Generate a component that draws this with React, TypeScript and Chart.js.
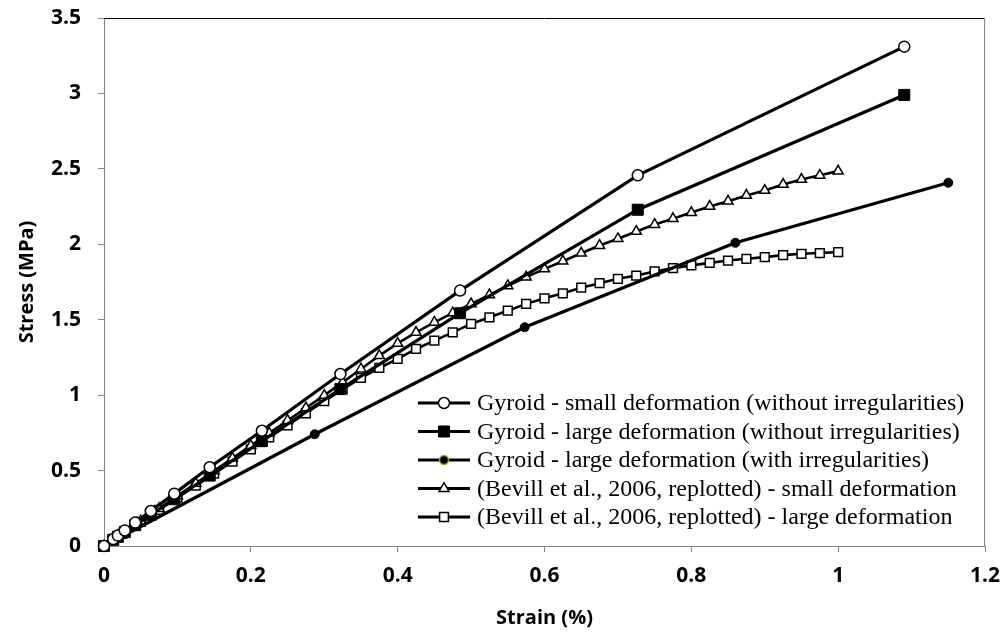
import React, { useEffect, useRef } from "react";
import { Chart, registerables } from "chart.js";

Chart.register(...registerables);

// ---- Data ----
const gyroidStrain = [0, 0.0126, 0.0189, 0.0283, 0.0425, 0.0638, 0.0957, 0.144, 0.215, 0.322, 0.485, 0.727, 1.09];
const gyroidSmallStress = [0, 0.046, 0.069, 0.103, 0.155, 0.232, 0.347, 0.522, 0.764, 1.14, 1.693, 2.457, 3.31];
const gyroidLargeStress = [0, 0.041, 0.061, 0.092, 0.138, 0.207, 0.31, 0.467, 0.695, 1.04, 1.543, 2.229, 2.99];

const irregStrain = [0, 0.287, 0.573, 0.86, 1.15];
const irregStress = [0, 0.741, 1.45, 2.01, 2.408];

const bevillStrain = [
  0, 0.025, 0.05, 0.075, 0.1, 0.125, 0.15, 0.175, 0.2, 0.225, 0.25, 0.275, 0.3, 0.325, 0.35, 0.375, 0.4,
  0.425, 0.45, 0.475, 0.5, 0.525, 0.55, 0.575, 0.6, 0.625, 0.65, 0.675, 0.7, 0.725, 0.75, 0.775, 0.8,
  0.825, 0.85, 0.875, 0.9, 0.925, 0.95, 0.975, 1.0,
];
const bevillSmallStress = [
  0, 0.082, 0.165, 0.248, 0.332, 0.415, 0.498, 0.582, 0.665, 0.748, 0.832, 0.915, 0.998, 1.085, 1.173, 1.262,
  1.343, 1.416, 1.483, 1.545, 1.605, 1.665, 1.725, 1.782, 1.837, 1.888, 1.941, 1.992, 2.037, 2.085, 2.131,
  2.17, 2.21, 2.251, 2.286, 2.324, 2.357, 2.397, 2.43, 2.457, 2.485,
];
const bevillLargeStress = [
  0, 0.08, 0.16, 0.24, 0.32, 0.4, 0.48, 0.56, 0.64, 0.72, 0.8, 0.88, 0.96, 1.038, 1.114, 1.18, 1.24, 1.306,
  1.361, 1.416, 1.472, 1.516, 1.56, 1.605, 1.642, 1.675, 1.712, 1.742, 1.771, 1.793, 1.82, 1.842, 1.86, 1.877,
  1.892, 1.904, 1.915, 1.928, 1.937, 1.942, 1.948,
];

const xTicks = [0, 0.2, 0.4, 0.6, 0.8, 1, 1.2];
const yTicks = [0, 0.5, 1, 1.5, 2, 2.5, 3, 3.5];

const seriesLabels = [
  "Gyroid - small deformation (without irregularities)",
  "Gyroid - large deformation (without irregularities)",
  "Gyroid - large deformation (with irregularities)",
  "(Bevill et al., 2006, replotted) - small deformation",
  "(Bevill et al., 2006, replotted) - large deformation",
];

const xTitle = "Strain (%)";
const yTitle = "Stress (MPa)";

const pts = (xs: number[], ys: number[]) => xs.map((x, i) => ({ x, y: ys[i] }));

const AXIS_GRAY = "#868686";
const SANS = "'Open Sans', 'Noto Sans', sans-serif";
const TICK_FONT = { family: SANS, size: 21, weight: 700 as any };
const TITLE_FONT = { family: SANS, size: 20, weight: 700 as any };
const LEGEND_FONT = "24px 'Liberation Serif', 'Times New Roman', serif";

// marker styles per series (used both by datasets and legend)
const markerStyles = [
  { style: "circle", radius: 5.5, fill: "#ffffff", stroke: "#000000", bw: 1.5 },
  { style: "rect", radius: 7.8, fill: "#000000", stroke: "#000000", bw: 1 },
  { style: "circle", radius: 4.5, fill: "#000000", stroke: "#000000", bw: 1 },
  { style: "triangle", radius: 5.8, fill: "#ffffff", stroke: "#000000", bw: 1.5 },
  { style: "rect", radius: 6.2, fill: "#ffffff", stroke: "#000000", bw: 1.5 },
];
const lineWidths = [3.2, 3.2, 3.2, 2.6, 2.6];

function drawMarker(ctx: CanvasRenderingContext2D, kind: string, x: number, y: number, r: number) {
  ctx.beginPath();
  if (kind === "circle") {
    ctx.arc(x, y, r, 0, Math.PI * 2);
  } else if (kind === "rect") {
    const s = r * Math.SQRT1_2;
    ctx.rect(x - s, y - s, 2 * s, 2 * s);
  } else if (kind === "triangle") {
    ctx.moveTo(x, y - r);
    ctx.lineTo(x + r * Math.sin(Math.PI / 3), y + r / 2);
    ctx.lineTo(x - r * Math.sin(Math.PI / 3), y + r / 2);
    ctx.closePath();
  }
}

const framePlugin = {
  id: "frame",
  beforeDatasetsDraw(chart: any) {
    const { ctx, chartArea: a } = chart;
    ctx.save();
    ctx.lineWidth = 1;
    ctx.strokeStyle = "#000000";
    ctx.beginPath();
    ctx.moveTo(a.left, a.top + 0.5);
    ctx.lineTo(a.right, a.top + 0.5);
    ctx.stroke();
    ctx.strokeStyle = AXIS_GRAY;
    ctx.beginPath();
    ctx.moveTo(a.right - 0.5, a.top);
    ctx.lineTo(a.right - 0.5, a.bottom);
    ctx.stroke();
    ctx.restore();
  },
};

const legendPlugin = {
  id: "innerLegend",
  afterDraw(chart: any) {
    const { ctx, chartArea: a } = chart;
    const x0 = a.left + 314;
    const y0 = 403;
    const step = 28.5;
    ctx.save();
    ctx.font = LEGEND_FONT;
    ctx.textBaseline = "middle";
    ctx.fillStyle = "#000";
    seriesLabels.forEach((label, i) => {
      const y = y0 + i * step;
      ctx.strokeStyle = "#000";
      ctx.lineWidth = 3;
      ctx.beginPath();
      ctx.moveTo(x0, y);
      ctx.lineTo(x0 + 52, y);
      ctx.stroke();
      const m = markerStyles[i];
      drawMarker(ctx, m.style, x0 + 26, y, m.radius);
      ctx.fillStyle = m.fill;
      ctx.fill();
      ctx.lineWidth = i === 2 ? 1.5 : m.bw;
      ctx.strokeStyle = i === 2 ? "#8fae45" : m.stroke;
      ctx.stroke();
      ctx.fillStyle = "#000";
      ctx.fillText(label, x0 + 59, y + 1);
    });
    ctx.restore();
  },
};

export default function App() {
  const canvasRef = useRef<HTMLCanvasElement | null>(null);

  useEffect(() => {
    document.body.style.margin = "0";
    const canvas = canvasRef.current;
    if (!canvas) return;
    const seriesData = [
      pts(gyroidStrain, gyroidSmallStress),
      pts(gyroidStrain, gyroidLargeStress),
      pts(irregStrain, irregStress),
      pts(bevillStrain, bevillSmallStress),
      pts(bevillStrain, bevillLargeStress),
    ];
    const datasets = seriesData.map((data, i) => ({
      label: seriesLabels[i],
      data,
      borderColor: "#000000",
      borderWidth: lineWidths[i],
      backgroundColor: markerStyles[i].fill,
      pointStyle: markerStyles[i].style,
      pointRadius: markerStyles[i].radius,
      pointBackgroundColor: markerStyles[i].fill,
      pointBorderColor: markerStyles[i].stroke,
      pointBorderWidth: markerStyles[i].bw,
      pointHoverRadius: markerStyles[i].radius,
      tension: 0,
      fill: false,
      clip: false as any,
    }));

    const chart = new Chart(canvas, {
      type: "line",
      data: { datasets: datasets as any },
      plugins: [framePlugin, legendPlugin],
      options: {
        animation: false,
        responsive: false,
        maintainAspectRatio: false,
        layout: { padding: { top: 18, right: 21, left: 0, bottom: 0 } },
        plugins: { legend: { display: false }, tooltip: { enabled: false } },
        scales: {
          x: {
            type: "linear",
            min: 0,
            max: 1.2,
            afterBuildTicks: (s: any) => {
              s.ticks = xTicks.map((v) => ({ value: v }));
            },
            afterFit: (s: any) => {
              s.height = 94;
              s.paddingLeft = 0;
              s.paddingRight = 0;
              s.paddingTop = 0;
              s.paddingBottom = 0;
            },
            ticks: {
              color: "#000",
              font: TICK_FONT,
              padding: 11,
              maxRotation: 0,
              callback: (v: any) => String(v),
            },
            grid: { drawOnChartArea: false, drawTicks: true, tickLength: 6, color: AXIS_GRAY },
            border: { color: AXIS_GRAY, width: 1 },
            title: {
              display: true,
              text: xTitle,
              color: "#000",
              font: TITLE_FONT,
              padding: { top: 0, bottom: 10 },
            },
          },
          y: {
            type: "linear",
            min: 0,
            max: 3.5,
            afterBuildTicks: (s: any) => {
              s.ticks = yTicks.map((v) => ({ value: v }));
            },
            afterFit: (s: any) => {
              s.width = 104;
              s.paddingLeft = 0;
              s.paddingRight = 0;
              s.paddingTop = 0;
              s.paddingBottom = 0;
            },
            ticks: {
              color: "#000",
              font: TICK_FONT,
              padding: 17,
              callback: (v: any) => String(v),
            },
            grid: { drawOnChartArea: false, drawTicks: true, tickLength: 6, color: AXIS_GRAY },
            border: { color: AXIS_GRAY, width: 1 },
            title: {
              display: true,
              text: yTitle,
              color: "#000",
              font: TITLE_FONT,
              padding: { top: 15, bottom: 0 },
            },
          },
        },
      },
    });
    return () => chart.destroy();
  }, []);

  return (
    <div style={{ width: 1006, height: 640, position: "relative" }}>
      <canvas ref={canvasRef} width={1006} height={640} style={{ display: "block" }} />
    </div>
  );
}
